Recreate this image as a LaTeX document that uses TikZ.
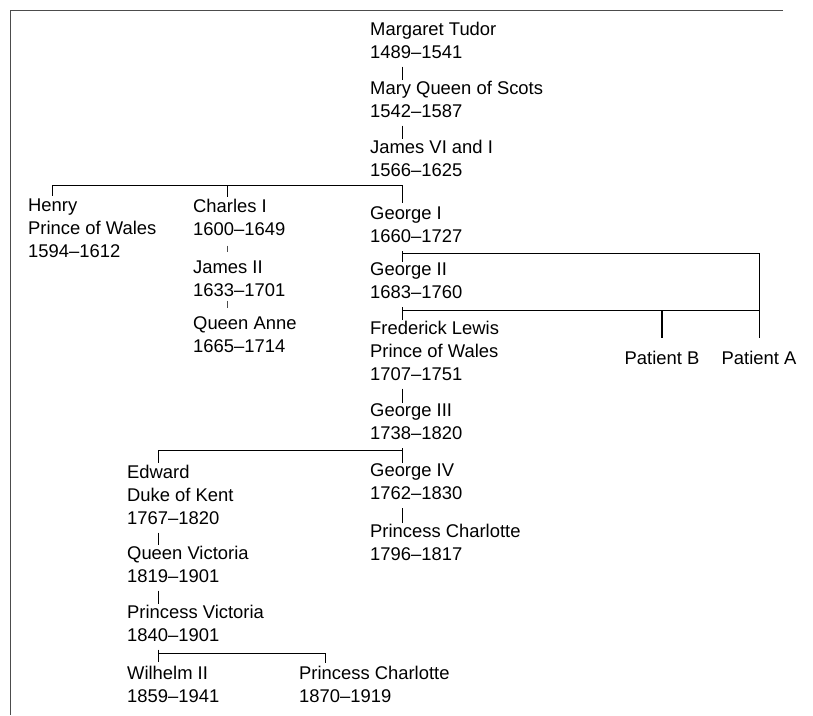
\documentclass[tikz,border=0pt]{standalone}
\usepackage{fontspec}
\setmainfont{Liberation Sans}
\usepackage{tikz}
\newcommand{\kinfont}{\fontsize{18.4}{23}\selectfont}

\begin{document}
\begin{tikzpicture}[x=1pt,y=-1pt,
  kin/.style={anchor=north west, inner sep=0pt, align=left, yshift=16.1pt, font=\kinfont,
    execute at begin node=\strut, execute at end node=\strut},
  patient/.style={anchor=base, inner sep=0pt, font=\kinfont},
  link/.style={line width=0.8pt, shorten <=1pt, shorten >=1pt},
  bar/.style={line width=0.9pt},
  faint/.style={line width=0.6pt, black!70}]
\useasboundingbox (0,0) rectangle (813,715);
\draw[black!70, line width=0.9pt] (783,10) -- (10,10) -- (10,715);

\node[kin] (margaret) at (370,38) {Margaret Tudor\\1489–1541};
\node[kin] (mary) at (370,97) {Mary Queen of Scots\\1542–1587};
\node[kin] (jamesVI) at (370,156) {James VI and I\\1566–1625};
\node[kin] (georgeI) at (370,223) {George I\\1660–1727};
\node[kin] (georgeII) at (370,279) {George II\\1683–1760};
\node[kin] (frederick) at (370,337) {Frederick Lewis\\Prince of Wales\\1707–1751};
\node[kin] (georgeIII) at (370,420) {George III\\1738–1820};
\node[kin] (georgeIV) at (370,480) {George IV\\1762–1830};
\node[kin] (charlotte) at (370,540) {Princess Charlotte\\1796–1817};

\node[kin] (henry) at (28,215) {Henry\\Prince of Wales\\1594–1612};
\node[kin] (charles) at (193,215) {Charles I\\1600–1649};
\node[kin] (jamesII) at (193,277) {James II\\1633–1701};
\node[kin] (anne) at (193,333) {Queen Anne\\1665–1714};

\node[kin] (edward) at (127,481) {Edward\\Duke of Kent\\1767–1820};
\node[kin] (victoria) at (127,562) {Queen Victoria\\1819–1901};
\node[kin] (vicky) at (127,621) {Princess Victoria\\1840–1901};
\node[kin] (wilhelm) at (127,682) {Wilhelm II\\1859–1941};
\node[kin] (charlotteB) at (299,682) {Princess Charlotte\\1870–1919};

\node[patient] (patientB) at (662,364) {Patient B};
\node[patient] (patientA) at (759,364) {Patient A};

\draw[link] ([xshift=32pt]margaret.south west) -- ([xshift=32pt]mary.north west);
\draw[link] ([xshift=32pt]mary.south west) -- ([xshift=32pt]jamesVI.north west);

\coordinate (jamesbar) at ([xshift=32pt,yshift=-2pt]jamesVI.south west);
\draw[bar] ([xshift=24pt,yshift=3pt]henry.north west) |- (jamesbar) -- ([xshift=32pt,yshift=4pt]georgeI.north west);
\draw[bar] ([xshift=34pt,yshift=2pt]charles.north west) -- ([xshift=34pt]charles.north west |- jamesbar);
\draw[faint, shorten <=3pt, shorten >=9pt] ([xshift=34pt]charles.south west) -- ([xshift=34pt]jamesII.north west);
\draw[faint, shorten <=-3pt, shorten >=9pt] ([xshift=34pt]jamesII.south west) -- ([xshift=34pt]anne.north west);

\draw[link] ([xshift=32pt]georgeI.south west) -- ([xshift=32pt]georgeII.north west);
\draw[bar] ([xshift=32pt,yshift=-3pt]georgeI.south west) -| ([yshift=12pt]patientA.north);

\coordinate (g2bar) at ([xshift=32pt,yshift=-4pt]georgeII.south west);
\draw[link] ([xshift=32pt]georgeII.south west) -- ([xshift=32pt]frederick.north west);
\draw[bar] (g2bar) -- (g2bar -| patientA.north);
\draw[bar, line width=1.2pt] (g2bar -| patientB.north) -- ([yshift=12pt]patientB.north);

\draw[link] ([xshift=32pt]frederick.south west) -- ([xshift=32pt]georgeIII.north west);
\coordinate (g3bar) at ([xshift=32pt,yshift=-3pt]georgeIII.south west);
\draw[link] ([xshift=32pt]georgeIII.south west) -- ([xshift=32pt]georgeIV.north west);
\draw[bar] (g3bar) -| ([xshift=31pt,yshift=2pt]edward.north west);
\draw[link] ([xshift=32pt]georgeIV.south west) -- ([xshift=32pt]charlotte.north west);

\draw[link] ([xshift=31pt]edward.south west) -- ([xshift=31pt]victoria.north west);
\draw[link] ([xshift=31pt]victoria.south west) -- ([xshift=31pt]vicky.north west);
\coordinate (vbar) at ([xshift=31pt,yshift=-5pt]vicky.south west);
\draw[link] ([xshift=31pt]vicky.south west) -- ([xshift=31pt,yshift=3pt]wilhelm.north west);
\draw[bar] (vbar) -| ([xshift=26pt,yshift=3pt]charlotteB.north west);
\end{tikzpicture}
\end{document}
